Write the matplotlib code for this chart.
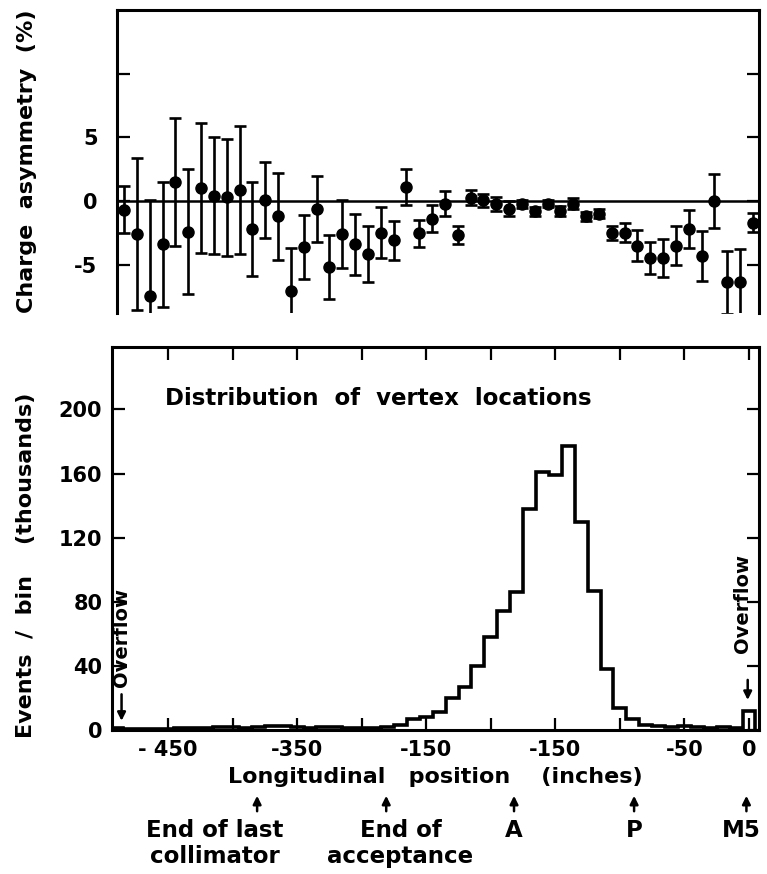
import numpy as np
import matplotlib.pyplot as plt
import matplotlib.transforms as mtransforms

plt.rcParams['font.family'] = 'DejaVu Sans'
plt.rcParams['font.weight'] = 'bold'
plt.rcParams['axes.labelweight'] = 'bold'

# 10 inch bins, first and last bins are overflow
bin_width = 10
bin_centers = np.arange(-490, 1, bin_width)

# events per bin (thousands)
events = [1.5, 0.5, 0.5, 0.5, 0.5, 1.0, 1.5, 1.5, 2.0, 2.0,
          1.5, 2.0, 2.5, 2.5, 2.0, 1.5, 2.0, 2.0, 1.5, 1.0,
          1.0, 2.0, 3.3, 7, 8, 11, 20, 27, 40, 58,
          74, 86, 138, 161, 159, 177, 130, 87, 38, 14,
          7, 3, 2.5, 2.0, 2.5, 2.0, 1.5, 2.0, 1.0, 12]

# charge asymmetry (%) and its error for each bin
asym = [-0.7, -2.6, -7.5, -3.4, 1.5, -2.4, 1.0, 0.4, 0.3, 0.85,
        -2.2, 0.1, -1.2, -7.1, -3.6, -0.6, -5.2, -2.6, -3.4, -4.15,
        -2.5, -3.1, 1.1, -2.55, -1.4, -0.2, -2.7, 0.25, 0.05, -0.25,
        -0.6, -0.25, -0.8, -0.2, -0.8, -0.2, -1.2, -1.0, -2.55, -2.5,
        -3.5, -4.5, -4.5, -3.5, -2.2, -4.3, 0.0, -6.4, -6.35, -1.7]
asym_err = [1.85, 6.0, 7.6, 4.9, 5.0, 4.9, 5.1, 4.6, 4.6, 5.0,
            3.7, 3.0, 3.4, 3.4, 2.5, 2.6, 2.5, 2.7, 2.4, 2.2,
            2.0, 1.5, 1.45, 1.05, 1.05, 1.0, 0.7, 0.6, 0.5, 0.55,
            0.6, 0.3, 0.35, 0.3, 0.4, 0.45, 0.35, 0.35, 0.55, 0.75,
            1.2, 1.25, 1.5, 1.5, 1.5, 1.95, 2.1, 2.45, 2.6, 0.75]

x_ticks = [-450, -400, -350, -300, -250, -200, -150, -100, -50, 0]
x_ticklabels = ['- 450', '', '-350', '', '-150', '', '-150', '', '-50', '0']

# markers along the beam line below the axis
landmark_x = [-381, -281, -182, -89, -2]
landmark_text = ['End of last\ncollimator', 'End of\nacceptance', 'A', 'P', 'M5']
landmark_text_x = [-414, -270, -182, -89, -6]

W, H = 767, 874
fig = plt.figure(figsize=(W / 100, H / 100), dpi=100)

def px_box(l, t, r, b):
    return [l / W, 1 - b / H, (r - l) / W, (b - t) / H]

tick_kw = dict(direction='in', length=9, width=1.6, labelsize=15)

# --- charge asymmetry ---
ax1 = fig.add_axes(px_box(117, 10, 759, 313))
ax1.errorbar(bin_centers, asym, yerr=asym_err, fmt='o', color='k',
             ms=8, elinewidth=1.9, capsize=4.5, capthick=1.9)
ax1.axhline(0, color='k', lw=1.8)
ax1.set_xlim(-495.5, 4.7)
ax1.set_ylim(-8.8, 15)
ax1.set_xticks([])
ax1.set_yticks([-5, 0, 5, 10])
ax1.set_yticklabels(['-5', '0', '5', ''])
ax1.tick_params(axis='y', left=True, right=True, pad=14, **tick_kw)
ax1.spines['bottom'].set_visible(False)
for s in ['left', 'right', 'top']:
    ax1.spines[s].set_linewidth(2.2)
ax1.set_ylabel('Charge  asymmetry  (%)', fontsize=16)
ax1.yaxis.set_label_coords(-0.125, 0.5)

# --- vertex distribution ---
ax2 = fig.add_axes(px_box(112, 347, 759, 730))
edges = np.append(np.array(bin_centers) - bin_width / 2, bin_centers[-1] + bin_width / 2)
ax2.stairs(events, edges, baseline=0, color='k', lw=2.6)
ax2.set_xlim(-493.4, 7.75)
ax2.set_ylim(0, 239)
ax2.set_xticks(x_ticks)
ax2.set_xticklabels(x_ticklabels)
ax2.set_yticks([0, 40, 80, 120, 160, 200])
ax2.tick_params(axis='both', left=True, right=True, top=True, bottom=True, pad=7, **tick_kw)
for s in ax2.spines.values():
    s.set_linewidth(2.2)
ax2.set_ylabel('Events  /  bin    (thousands)', fontsize=16)
ax2.yaxis.set_label_coords(-0.118, 0.43)
ax2.set_xlabel('Longitudinal   position    (inches)', fontsize=16, labelpad=5)
ax2.text(-452, 207, 'Distribution  of  vertex  locations', fontsize=16.5, va='center', ha='left')

# overflow labels
ax2.text(-486, 58, 'Overflow', rotation=90, fontsize=14, ha='center', va='center')
ax2.annotate('', xy=(-486, 4), xytext=(-486, 24),
             arrowprops=dict(arrowstyle='-|>', color='k', lw=1.8, mutation_scale=12))
ax2.text(-5, 79, 'Overflow', rotation=90, fontsize=14, ha='center', va='center')
ax2.annotate('', xy=(-1, 17), xytext=(-1, 33),
             arrowprops=dict(arrowstyle='-|>', color='k', lw=1.8, mutation_scale=12))

trans = mtransforms.blended_transform_factory(ax2.transData, fig.transFigure)
for xa, xt, label in zip(landmark_x, landmark_text_x, landmark_text):
    ax2.annotate('', xy=(xa, 1 - 793 / H), xytext=(xa, 1 - 814 / H),
                 xycoords=trans, textcoords=trans, annotation_clip=False,
                 arrowprops=dict(arrowstyle='-|>', color='k', lw=1.8, mutation_scale=12))
    ax2.text(xt, 1 - 819 / H, label, transform=trans, ha='center', va='top',
             fontsize=16.5, linespacing=1.15)

fig.savefig('out.png', dpi=100)
